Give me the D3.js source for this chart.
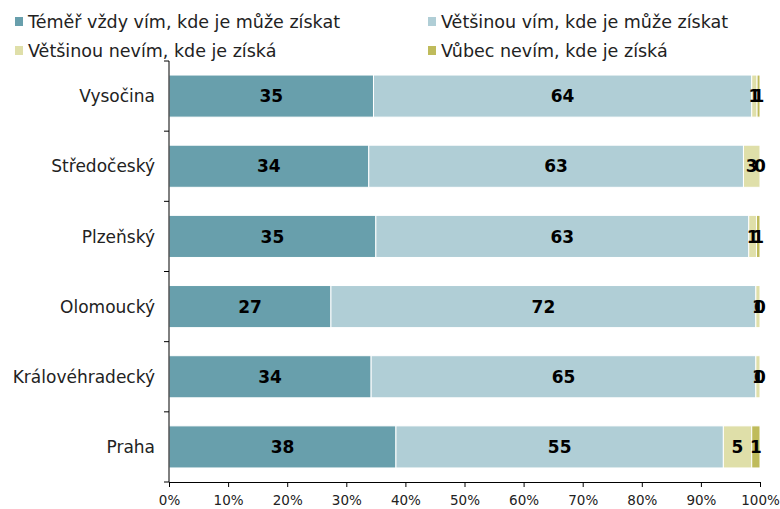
<!DOCTYPE html>
<html>
<head>
<meta charset="utf-8">
<script src="https://cdn.jsdelivr.net/npm/d3@7"></script>
<style>
  body { margin: 0; background: #fff; }
  text { font-family: "DejaVu Sans", Verdana, sans-serif; }
</style>
</head>
<body>
<div id="chart"></div>
<script>
// Regions top to bottom
var regions = ["Vysočina", "Středočeský", "Plzeňský", "Olomoucký", "Královéhradecký", "Praha"];

// Series (percent)
var almostAlways = [34.6, 33.8, 35.0, 27.4, 34.2, 38.4];
var mostlyKnow   = [64.0, 63.4, 63.1, 71.9, 65.1, 55.4];
var mostlyNot    = [0.9, 2.8, 1.3, 0.7, 0.7, 4.8];
var neverKnow    = [0.5, 0.0, 0.6, 0.0, 0.0, 1.4];

var seriesNames = [
    "Téměř vždy vím, kde je může získat",
    "Většinou vím, kde je může získat",
    "Většinou nevím, kde je získá",
    "Vůbec nevím, kde je získá"
];
var seriesColors = ["#689fac", "#b0ced6", "#dfdfa9", "#bfbb5b"];
var xTicks = [0, 10, 20, 30, 40, 50, 60, 70, 80, 90, 100];

var W = 780, H = 509;
var margin = { top: 61, right: 20, bottom: 27, left: 169 };
var width = 760 - margin.left;
var height = 482 - margin.top;

var svg = d3.select("#chart").append("svg")
    .attr("width", W).attr("height", H);

// Build rows for the stack
var keys = ["a", "b", "c", "d"];
var rows = regions.map(function (r, i) {
    return { region: r, a: almostAlways[i], b: mostlyKnow[i], c: mostlyNot[i], d: neverKnow[i] };
});
var stack = d3.stack().keys(keys).offset(d3.stackOffsetExpand);
var layers = stack(rows);

var x = d3.scaleLinear().domain([0, 1]).range([0, width]);
var y = d3.scaleBand().domain(regions).range([0, height]).paddingInner(0.4).paddingOuter(0.2);

var g = svg.append("g").attr("transform", "translate(" + margin.left + "," + margin.top + ")");

// Bars
var layerG = g.selectAll(".layer").data(layers).enter().append("g")
    .attr("fill", function (d, i) { return seriesColors[i]; });

layerG.selectAll("rect").data(function (d) { return d; }).enter().append("rect")
    .attr("x", function (d) { return x(d[0]); })
    .attr("y", function (d) { return y(d.data.region); })
    .attr("width", function (d) { return Math.max(0, x(d[1]) - x(d[0])); })
    .attr("height", y.bandwidth())
    .attr("stroke", "#fff")
    .attr("stroke-width", 1);

// Value labels
layers.forEach(function (layer) {
    g.selectAll(null).data(layer).enter().append("text")
        .attr("x", function (d) { return (x(d[0]) + x(d[1])) / 2; })
        .attr("y", function (d) { return y(d.data.region) + y.bandwidth() / 2; })
        .attr("dy", "0.36em")
        .attr("text-anchor", "middle")
        .style("font-size", "17px")
        .style("font-weight", "bold")
        .attr("fill", "#000")
        .text(function (d) { return Math.round(d.data[layer.key]); });
});

// Y axis: line with ticks at band edges
g.append("line").attr("x1", 0).attr("x2", 0).attr("y1", 0).attr("y2", height)
    .attr("stroke", "#000");
var edges = d3.range(regions.length + 1).map(function (i) { return i * y.step(); });
g.selectAll(".ytick").data(edges).enter().append("line")
    .attr("x1", -5).attr("x2", 0)
    .attr("y1", function (d) { return d; }).attr("y2", function (d) { return d; })
    .attr("stroke", "#000");
g.selectAll(".ylab").data(regions).enter().append("text")
    .attr("x", -14)
    .attr("y", function (d) { return y(d) + y.bandwidth() / 2; })
    .attr("dy", "0.36em")
    .attr("text-anchor", "end")
    .style("font-size", "17px")
    .attr("fill", "#222")
    .text(function (d) { return d; });

// X axis
var xAxis = d3.axisBottom(x)
    .tickValues(xTicks.map(function (t) { return t / 100; }))
    .tickFormat(function (d) { return Math.round(d * 100) + "%"; })
    .tickSizeOuter(0)
    .tickSize(5);
var xg = g.append("g").attr("transform", "translate(0," + height + ")").call(xAxis);
xg.select(".domain").attr("stroke", "#000");
xg.selectAll(".tick line").attr("stroke", "#000");
xg.selectAll(".tick text")
    .attr("y", 13)
    .style("font-size", "13.5px")
    .style("font-family", "'DejaVu Sans', Verdana, sans-serif")
    .attr("fill", "#222");

// Legend
var legendPos = [[15, 22], [428, 22], [15, 51], [428, 51]];
var legend = svg.selectAll(".legend").data(seriesNames).enter().append("g")
    .attr("transform", function (d, i) { return "translate(" + legendPos[i][0] + "," + legendPos[i][1] + ")"; });
legend.append("rect")
    .attr("x", 0).attr("y", -5).attr("width", 8).attr("height", 9)
    .attr("fill", function (d, i) { return seriesColors[i]; });
legend.append("text")
    .attr("x", 13).attr("y", 0).attr("dy", "0.36em")
    .style("font-size", "17.5px")
    .attr("fill", "#222")
    .text(function (d) { return d; });
</script>
</body>
</html>
